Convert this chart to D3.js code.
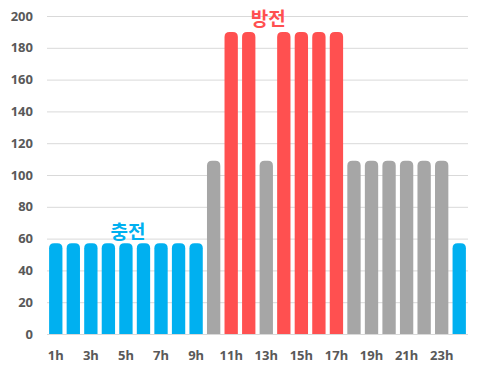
<!DOCTYPE html>
<html>
<head>
<meta charset="utf-8">
<script src="https://cdn.jsdelivr.net/npm/d3@7"></script>
<style>
  body { margin: 0; background: #fff; }
  text { font-family: "Noto Sans", "Noto Sans CJK KR", sans-serif; }
</style>
</head>
<body>
<div id="chart"></div>
<script>
const hours = d3.range(1, 25).map(h => h + "h");
const values = [57, 57, 57, 57, 57, 57, 57, 57, 57, 109, 190, 190, 109, 190, 190, 190, 190, 109, 109, 109, 109, 109, 109, 57];
const kinds = ["c","c","c","c","c","c","c","c","c","i","d","d","i","d","d","d","d","i","i","i","i","i","i","c"];
const yTicks = [0, 20, 40, 60, 80, 100, 120, 140, 160, 180, 200];
const notes = [
  { text: "충전", at: "5h", value: 63, kind: "c" },
  { text: "방전", at: "13h", value: 197.5, kind: "d" }
];

const colors = { c: "#00b0f0", d: "#ff5050", i: "#a6a6a6" };

const width = 485, height = 373;
const margin = { top: 16, right: 17, bottom: 39, left: 47 };

const svg = d3.select("#chart").append("svg")
  .attr("width", width)
  .attr("height", height);

const x = d3.scaleBand()
  .domain(hours)
  .range([margin.left, width - margin.right])
  .paddingInner(0.24)
  .paddingOuter(0.12);

const y = d3.scaleLinear()
  .domain([0, 200])
  .range([height - margin.bottom, margin.top]);

// grid
svg.append("g")
  .selectAll("line")
  .data(yTicks.slice(1))
  .join("line")
    .attr("x1", margin.left).attr("x2", width - margin.right)
    .attr("y1", d => y(d) + 0.5).attr("y2", d => y(d) + 0.5)
    .attr("stroke", "#d9d9d9");

// y labels
svg.append("g")
  .selectAll("text")
  .data(yTicks)
  .join("text")
    .attr("x", 33)
    .attr("y", d => y(d))
    .attr("dy", "0.35em")
    .attr("text-anchor", "end")
    .attr("font-size", 13)
    .attr("font-weight", "bold")
    .attr("fill", "#595959")
    .text(d => d);

// rounded-top bars
function barPath(d, i) {
  const x0 = x(hours[i]), w = x.bandwidth();
  const y0 = y(0), y1 = y(d);
  const r = Math.min(5, w / 2);
  return `M${x0},${y0}V${y1 + r}Q${x0},${y1} ${x0 + r},${y1}H${x0 + w - r}Q${x0 + w},${y1} ${x0 + w},${y1 + r}V${y0}Z`;
}

svg.append("g")
  .selectAll("path")
  .data(values)
  .join("path")
    .attr("d", barPath)
    .attr("fill", (d, i) => colors[kinds[i]]);

// baseline
svg.append("line")
  .attr("x1", margin.left).attr("x2", width - margin.right)
  .attr("y1", y(0) + 0.5).attr("y2", y(0) + 0.5)
  .attr("stroke", "#d9d9d9");

// x labels (every other)
svg.append("g")
  .selectAll("text")
  .data(hours.filter((h, i) => i % 2 === 0))
  .join("text")
    .attr("x", d => x(d) + x.bandwidth() / 2)
    .attr("y", y(0) + 21)
    .attr("dy", "0.35em")
    .attr("text-anchor", "middle")
    .attr("font-size", 13)
    .attr("font-weight", "bold")
    .attr("fill", "#595959")
    .text(d => d);

// annotations
svg.append("g")
  .selectAll("text")
  .data(notes)
  .join("text")
    .attr("x", d => x(d.at) + x.bandwidth() / 2 + 2)
    .attr("y", d => y(d.value) - 1)
    .attr("dy", "0.35em")
    .attr("text-anchor", "middle")
    .attr("font-family", "'Noto Sans CJK KR', sans-serif")
    .attr("font-size", 19)
    .attr("font-weight", "bold")
    .attr("fill", d => colors[d.kind])
    .text(d => d.text);
</script>
</body>
</html>
